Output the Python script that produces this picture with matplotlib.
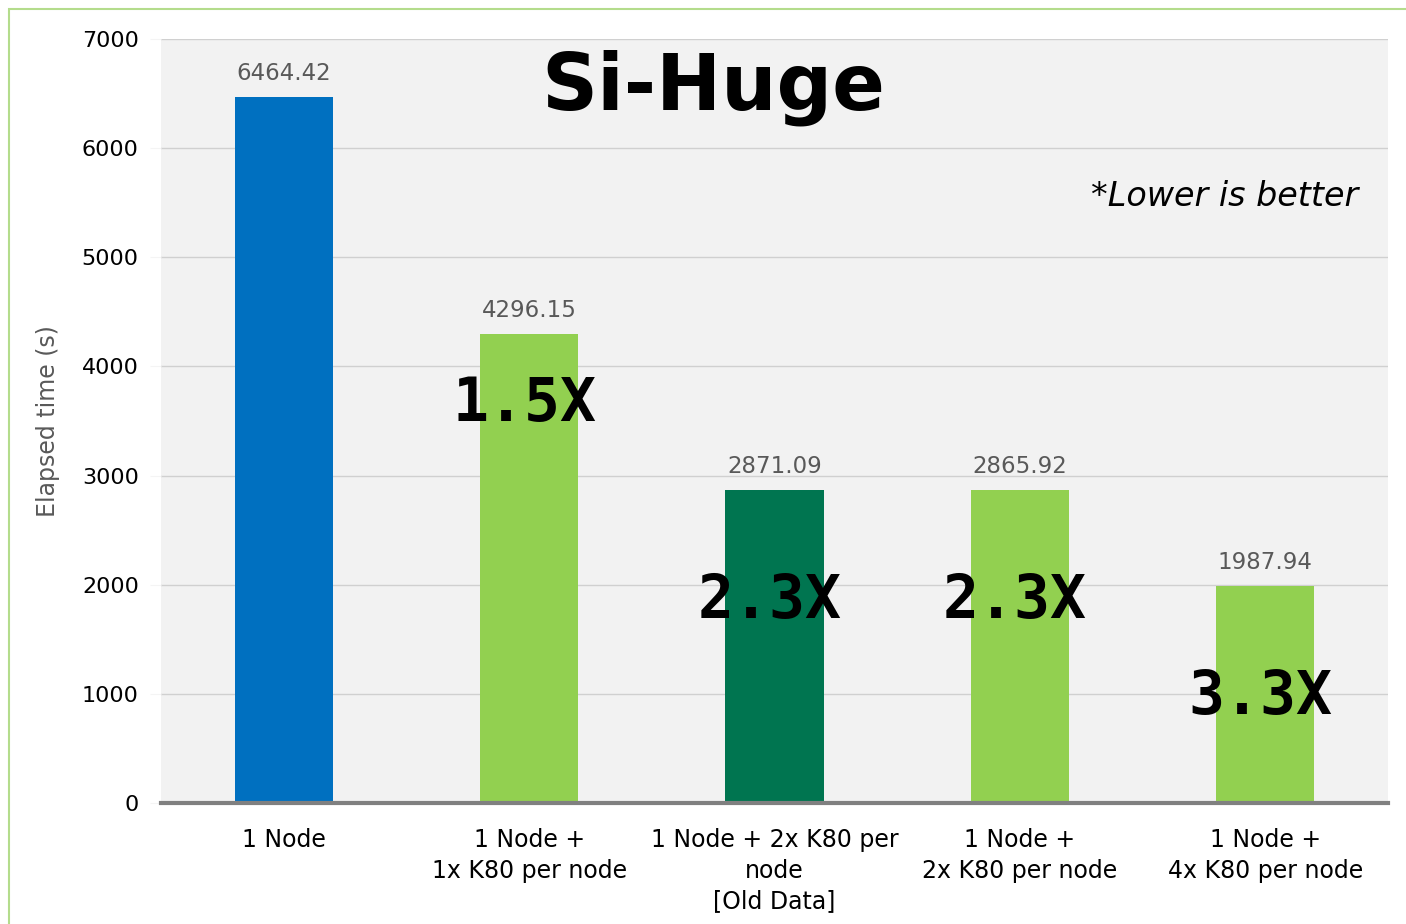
import matplotlib.pyplot as plt
import matplotlib.patches as patches

categories = ['1 Node', '1 Node +\n1x K80 per node', '1 Node + 2x K80 per\nnode\n[Old Data]',
              '1 Node +\n2x K80 per node', '1 Node +\n4x K80 per node']
elapsed = [6464.42, 4296.15, 2871.09, 2865.92, 1987.94]
value_labels = ['6464.42', '4296.15', '2871.09', '2865.92', '1987.94']
speedup_labels = ['', '1.5X', '2.3X', '2.3X', '3.3X']
speedup_y = [0, 3650, 1850, 1850, 970]
bar_colors = ['#0070C0', '#92D050', '#007550', '#92D050', '#92D050']

fig = plt.figure(figsize=(14.06, 9.24), dpi=100)
ax = fig.add_axes([0.1145, 0.131, 0.8727, 0.8268])
ax.set_facecolor('#f2f2f2')

x = range(len(categories))
ax.bar(x, elapsed, width=0.4, color=bar_colors, zorder=3)
ax.set_xlim(-0.5, 4.5)
ax.set_ylim(0, 7000)
ax.set_yticks(range(0, 7001, 1000))
ax.yaxis.grid(True, color='#d0d0d0', linewidth=1, zorder=0)
ax.tick_params(axis='y', length=8, color='#f4f4f4', labelsize=16, pad=8)
ax.tick_params(axis='x', length=0, labelsize=17, pad=18)
ax.set_xticks(list(x))
ax.set_xticklabels(categories, linespacing=1.35)
for s in ['top', 'right', 'left']:
    ax.spines[s].set_visible(False)
ax.spines['bottom'].set_color('#808080')
ax.spines['bottom'].set_linewidth(3)
ax.spines['bottom'].set_zorder(4)

ax.set_ylabel('Elapsed time (s)', fontsize=17, color='#595959', labelpad=16)

for i, v in enumerate(elapsed):
    ax.text(i, v + 110, value_labels[i], ha='center', va='bottom', fontsize=16.5, color='#595959')
    if speedup_labels[i]:
        ax.text(i - 0.02, speedup_y[i], speedup_labels[i], ha='center', va='center',
                fontsize=43, fontweight='bold', family='DejaVu Sans Mono', color='black', zorder=5)

ax.text(1.75, 6550, 'Si-Huge', ha='center', va='center', fontsize=56, fontweight='bold', color='black')
ax.text(4.38, 5560, '*Lower is better', ha='right', va='center', fontsize=24, style='italic', color='black')

fig.patches.append(patches.Rectangle((9 / 1406, -0.1), 1.2, 1 - 9 / 924 + 0.1, transform=fig.transFigure,
                                     fill=False, edgecolor='#b4dc8c', linewidth=1.5))

fig.savefig('out.png', dpi=100)
